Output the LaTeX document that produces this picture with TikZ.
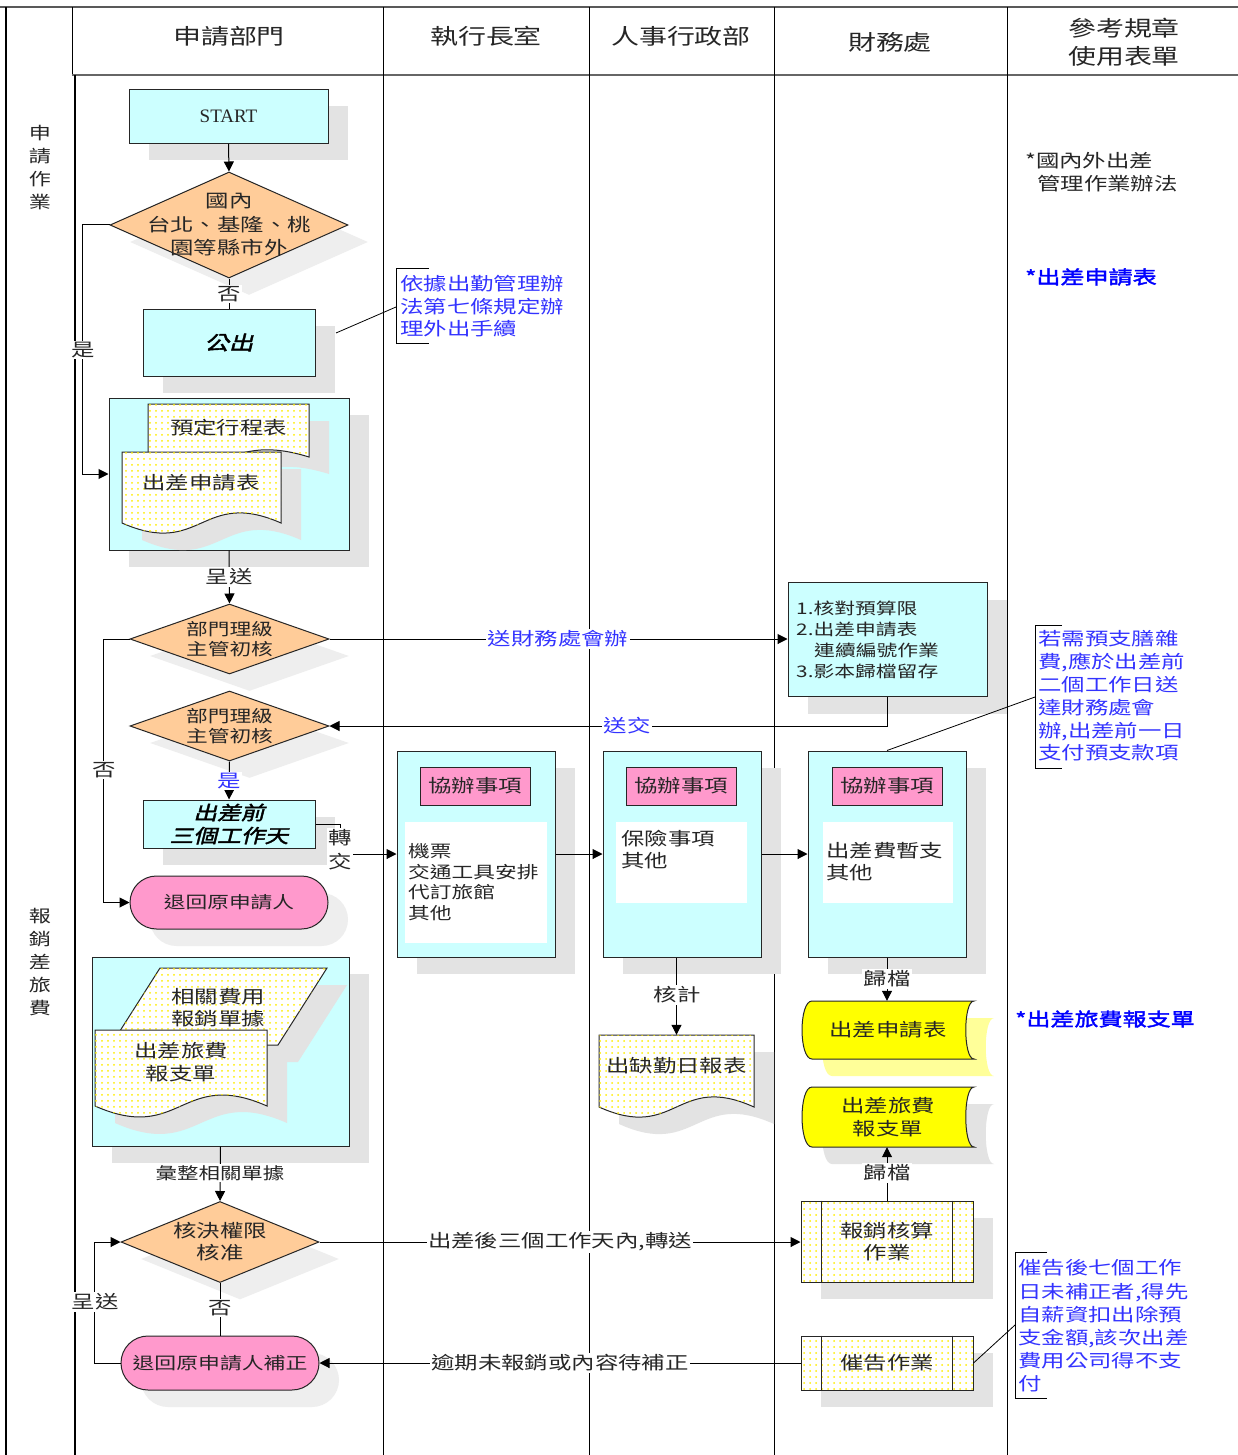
\documentclass[tikz,border=0pt]{standalone}
\usepackage{fontspec}
\setmainfont{Noto Sans CJK TC}[FakeStretch=1.3]
\newfontfamily\cjkbi{Noto Sans CJK TC}[FakeStretch=1.25,FakeSlant=0.25,FakeBold=2]
\newfontfamily\cjkb{Noto Sans CJK TC}[FakeStretch=1.3,FakeBold=2]
\newfontfamily\serifen{Liberation Serif}
\usetikzlibrary{arrows.meta,patterns.meta,shapes.geometric,shapes.misc,shadows}
\definecolor{cyanf}{HTML}{CCFFFF}
\definecolor{orangef}{HTML}{FFCC99}
\definecolor{pinkf}{HTML}{FF99CC}
\definecolor{shd}{HTML}{E3E3E3}
\definecolor{shdl}{HTML}{EEEEEE}
\definecolor{yelf}{HTML}{FFFF00}
\definecolor{yels}{HTML}{FFFF99}
\definecolor{bluet}{HTML}{3333FF}
\definecolor{blueb}{HTML}{0000FF}
\definecolor{txt}{HTML}{262626}
\definecolor{dotc}{HTML}{FFEE00}
\newcommand\docshape[6]{\path[#6] (#1,#2) -- (#3,#2) -- (#3,#4) .. controls ({(#1+#3)/2},{#4-#5}) and ({(#1+#3)/2},{#4+#5}) .. (#1,#4) -- cycle;}
\newcommand\storeshape[5]{\path[#5] ({#1+10},#2) -- (#3,#2) .. controls ({#3-11},#2) and ({#3-11},#4) .. (#3,#4) -- ({#1+10},#4) .. controls ({#1-3.3},#4) and ({#1-3.3},#2) .. ({#1+10},#2) -- cycle;}
\begin{document}
\begin{tikzpicture}[x=1pt,y=-1pt,
  sh/.style={drop shadow={shadow xshift=20pt,shadow yshift=-17pt,fill=shd,draw=none,opacity=1}},
  shl/.style={drop shadow={shadow xshift=20pt,shadow yshift=-17pt,fill=shdl,draw=none,opacity=1}},
  shy/.style={drop shadow={shadow xshift=20pt,shadow yshift=-17pt,fill=yels,draw=none,opacity=1}},
  tb/.style={font=\fontsize{18}{23}\selectfont},
  tx/.style={inner sep=0pt,text=txt},
  box/.style={draw=black!85,line width=1pt,fill=cyanf,inner sep=0pt,sh,text=txt},
  dia/.style={shape=diamond,draw=black!85,line width=1pt,fill=orangef,inner sep=0pt,shl},
  stad/.style={shape=rounded rectangle,draw=black!85,line width=1pt,fill=pinkf,inner sep=0pt,shl,text=txt},
  hdbox/.style={draw=black!85,line width=1pt,fill=pinkf,inner sep=0pt,minimum width=110pt,minimum height=38pt,font=\fontsize{18}{22}\selectfont,text=txt},
  innerw/.style={fill=white,inner sep=0pt},
  dotfill/.style={fill=white,postaction={pattern={Dots[distance=6pt,radius=1pt]},pattern color=dotc}},
  pproc/.style={draw=black!85,line width=1pt,dotfill,inner sep=0pt,sh,text=txt},
  shp/.style={draw=black!85,line width=1pt},
  con/.style={draw=black,line width=1pt},
  arr/.style={draw=black,line width=1pt,-{Triangle[length=10pt,width=10pt]}},
  lbl/.style={fill=white,inner sep=1.5pt,font=\fontsize{18}{22}\selectfont,text=txt},
  blbl/.style={lbl,text=bluet},
  ann/.style={inner sep=0pt,anchor=west,align=left,text=bluet,font=\fontsize{18}{22.8}\selectfont},
  hdr/.style={inner sep=0pt,text=txt,align=center,font=\fontsize{21.5}{28}\selectfont}
]
\fill[white] (0,0) rectangle (1238,1455);
\useasboundingbox (0,0) rectangle (1238,1455);

% lanes
\draw[line width=2pt,draw=black!65] (0,7) -- (1238,7);
\draw[line width=1.2pt] (6,7) -- (6,1455);
\draw[line width=1pt] (72,7) -- (72,75);
\draw[line width=1.6pt,draw=black!60] (72,75) -- (1238,75);
\draw[line width=1.2pt] (75,75) -- (75,1455);
\foreach \xx in {383,589,774,1007} \draw[line width=1pt] (\xx,7) -- (\xx,1455);

% headers
\node[hdr] (h1) at (229,36) {申請部門};
\node[hdr] (h2) at (486,36) {執行長室};
\node[hdr] (h3) at (681,36) {人事行政部};
\node[hdr] (h4) at (890,42) {財務處};
\node[hdr] (h5) at (1124,42) {參考規章\\使用表單};
\node[tx,align=center,font=\fontsize{17}{23}\selectfont] (lane1) at (40,168) {申\\請\\作\\業};
\node[tx,align=center,font=\fontsize{17}{23}\selectfont] (lane2) at (40,962) {報\\銷\\差\\旅\\費};

% column 1
\node[box,minimum width=199pt,minimum height=54pt,font={\serifen\fontsize{19}{22}\selectfont}] (start) at (228.5,116.5) {START};
\node[dia,minimum width=238pt,minimum height=106pt] (d1) at (229,225) {};
\node[tx,align=center,font=\fontsize{18}{23.5}\selectfont] (d1t) at (229,225) {國內\\台北、基隆、桃\\園等縣市外};
\node[box,minimum width=172pt,minimum height=67pt,font={\cjkbi\fontsize{19.5}{22}\selectfont},text=black] (gc) at (229,342.5) {公出};

\node[box,minimum width=240pt,minimum height=152pt] (pack1) at (229,474) {};
\docshape{148}{404}{309}{457}{25}{shp,dotfill,sh}
\node[tx,tb] (doc1) at (228.5,428) {預定行程表};
\docshape{122}{452}{281}{523}{35}{shp,dotfill,sh}
\node[tx,tb] (doc2) at (201,483) {出差申請表};

\node[dia,minimum width=199pt,minimum height=70pt] (d2) at (229.5,639) {};
\node[tx,align=center,font=\fontsize{16.7}{20}\selectfont] (d2t) at (229.5,639) {部門理級\\主管初核};
\node[dia,minimum width=199pt,minimum height=70pt] (d3) at (229.5,726) {};
\node[tx,align=center,font=\fontsize{16.7}{20}\selectfont] (d3t) at (229.5,726) {部門理級\\主管初核};

\node[box,minimum width=172pt,minimum height=48pt,align=center,font={\cjkbi\fontsize{19}{23}\selectfont},text=black] (cq) at (229,824) {出差前\\三個工作天};
\node[stad,minimum width=198pt,minimum height=53pt,font=\fontsize{16.7}{20}\selectfont] (back1) at (229,902.5) {退回原申請人};

\node[box,minimum width=257pt,minimum height=189pt] (pack2) at (220.5,1051.5) {};
\path[shp,dotfill,sh] (160,968) -- (327,968) -- (278,1045) -- (111,1045) -- cycle;
\node[tx,align=center,font=\fontsize{18}{22}\selectfont] (par) at (218,1008) {相關費用\\報銷單據};
\docshape{95}{1030}{267}{1106}{38}{shp,dotfill,sh}
\node[tx,align=center,font=\fontsize{18}{23}\selectfont] (doc4) at (181,1062.5) {出差旅費\\報支單};

\node[dia,minimum width=198pt,minimum height=81pt] (d4) at (220,1242) {};
\node[tx,align=center,font=\fontsize{18}{22}\selectfont] (d4t) at (220,1242) {核決權限\\核准};
\node[stad,minimum width=198pt,minimum height=54pt] (back2) at (220,1363) {};
\node[tx,font=\fontsize{16.8}{22}\selectfont] (back2t) at (220,1363) {退回原申請人補正};

% column 2
\node[box,minimum width=158pt,minimum height=206pt] (cb1) at (476,854) {};
\node[hdbox] (cb1h) at (475,786) {協辦事項};
\node[innerw,minimum width=142pt,minimum height=121pt] (cb1i) at (476,882.5) {};
\node[tx,anchor=west,align=left,font=\fontsize{16.7}{20.7}\selectfont] (cb1t) at (408,882) {機票\\交通工具安排\\代訂旅館\\其他};

% column 3
\node[box,minimum width=158pt,minimum height=206pt] (cb2) at (682,854) {};
\node[hdbox] (cb2h) at (681,786) {協辦事項};
\node[innerw,minimum width=131pt,minimum height=81pt] (cb2i) at (681.5,862.5) {};
\node[tx,anchor=west,align=left,font=\fontsize{18}{22}\selectfont] (cb2t) at (621,850) {保險事項\\其他};
\docshape{599}{1035}{754}{1107}{35}{shp,dotfill,sh}
\node[tx,tb,minimum width=155pt,minimum height=62pt] (doc3) at (676.5,1066) {出缺勤日報表};

% column 4
\node[box,minimum width=199pt,minimum height=114pt] (fin) at (887.5,639.5) {};
\node[tx,anchor=west,align=left,font=\fontsize{16}{21}\selectfont] (fint) at (796,639.5) {1.核對預算限\\2.出差申請表\\\hspace*{18pt}連續編號作業\\3.影本歸檔留存};
\node[box,minimum width=158pt,minimum height=206pt] (cb3) at (887,854) {};
\node[hdbox] (cb3h) at (887,786) {協辦事項};
\node[innerw,minimum width=130pt,minimum height=81pt] (cb3i) at (888,862.5) {};
\node[tx,anchor=west,align=left,font=\fontsize{18}{22}\selectfont] (cb3t) at (826,862) {出差費暫支\\其他};

\storeshape{802}{1001}{974}{1059}{shp,fill=yelf,shy}
\node[tx,tb,minimum width=172pt,minimum height=58pt] (st1) at (888,1030) {出差申請表};
\storeshape{802}{1087}{974}{1147}{shp,fill=yelf,sh}
\node[tx,align=center,font=\fontsize{18}{23}\selectfont,minimum width=172pt,minimum height=60pt] (st2) at (888,1117) {出差旅費\\報支單};

\node[pproc,minimum width=172pt,minimum height=81pt,align=center,font=\fontsize{18}{22}\selectfont] (pp1) at (887,1241.5) {報銷核算\\作業};
\draw[shp] ([xshift=21pt]pp1.north west) -- ([xshift=21pt]pp1.south west);
\draw[shp] ([xshift=-21pt]pp1.north east) -- ([xshift=-21pt]pp1.south east);
\node[pproc,minimum width=172pt,minimum height=54pt,font=\fontsize{18}{22}\selectfont] (pp2) at (887,1363) {催告作業};
\draw[shp] ([xshift=21pt]pp2.north west) -- ([xshift=21pt]pp2.south west);
\draw[shp] ([xshift=-21pt]pp2.north east) -- ([xshift=-21pt]pp2.south east);

% column 5
\node[tx,anchor=west,align=left,font=\fontsize{18}{23}\selectfont] (ref1) at (1025,172.5) {*國內外出差\\\hspace*{12pt}管理作業辦法};
\node[tx,anchor=west,text=blueb,font={\cjkb\fontsize{18.5}{22}\selectfont}] (ref2) at (1025,277) {*出差申請表};
\node[tx,anchor=west,text=blueb,font={\cjkb\fontsize{18.5}{22}\selectfont}] (ref3) at (1015,1019) {*出差旅費報支單};

% annotations
\node[ann,font=\fontsize{18}{22.5}\selectfont] (ann1) at (400,306.5) {依據出勤管理辦\\法第七條規定辦\\理外出手續};
\draw[con,line width=0.8pt] (429,268) -- (396,268) -- (396,343) -- (429,343);
\node[ann] (ann2) at (1038,696) {若需預支膳雜\\費,應於出差前\\二個工作日送\\達財務處會\\辦,出差前一日\\支付預支款項};
\draw[con,line width=0.8pt] (1062,625) -- (1035,625) -- (1035,768) -- (1062,768);
\node[ann,font=\fontsize{18}{23.2}\selectfont] (ann3) at (1018,1326) {催告後七個工作\\日未補正者,得先\\自薪資扣出除預\\支金額,該次出差\\費用公司得不支\\付};
\draw[con,line width=0.8pt] (1047,1252) -- (1015,1252) -- (1015,1398) -- (1047,1398);
\coordinate (a1s) at (336,333);
\coordinate (a1e) at (396,307);
\coordinate (a2e) at (1035,697);
\coordinate (a3e) at (1015,1325);
\draw[con,line width=0.8pt] (a1s) -- (a1e);
\draw[con,line width=0.8pt] (cb3.north) -- (a2e);
\draw[con,line width=0.8pt] (pp2.east) -- (a3e);

% connectors
\draw[arr] (start.south) -- (d1.north);
\draw[con] (d1.south) -- (gc.north);
\node[lbl] (lb1) at (229,294) {否};
\draw[arr] (d1.west) -- ++(-27,0) |- (pack1.west);
\node[lbl] (lb2) at (83,350) {是};
\draw[arr] (pack1.south) -- (d2.north);
\node[lbl] (lb3) at (229,577) {呈送};
\draw[arr] (d2.east) -- (d2.east -| fin.west);
\node[blbl] (lb4) at (558,639) {送財務處會辦};
\draw[arr] (fin.south) |- (d3.east);
\node[blbl] (lb5) at (627,726) {送交};
\draw[arr] (d2.west) -- ++(-26,0) |- (back1.west);
\node[lbl] (lb6) at (104,770) {否};
\draw[arr] (d3.south) -- (cq.north);
\node[blbl] (lb7) at (229,781) {是};
\draw[arr] (cq.east) -- ++(25,0) |- (cb1.west);
\node[lbl,align=center,font=\fontsize{18}{24}\selectfont] (lb8) at (340,850) {轉\\交};
\draw[arr] (cb1.east) -- (cb2.west);
\draw[arr] (cb2.east) -- (cb3.west);
\draw[arr] (doc3.north |- cb2.south) -- (doc3.north);
\node[lbl] (lb9) at (677,995) {核計};
\draw[arr] (cb3.south) -- (cb3.south |- st1.north);
\node[lbl] (lb10) at (887,979) {歸檔};
\draw[arr] (pp1.north) -- (pp1.north |- st2.south);
\node[lbl] (lb11) at (887,1173) {歸檔};
\draw[arr] (pack2.south) -- (d4.north);
\node[lbl,font=\fontsize{16.5}{20}\selectfont] (lb12) at (220,1173) {彙整相關單據};
\draw[con] (d4.south) -- (back2.north);
\node[lbl] (lb13) at (220,1308) {否};
\draw[arr] (back2.west) -- ++(-26,0) |- (d4.west);
\node[lbl] (lb14) at (95,1302) {呈送};
\draw[arr] (d4.east) -- (d4.east -| pp1.west);
\node[lbl] (lb15) at (560,1242) {出差後三個工作天內,轉送};
\draw[arr] (pp2.west) -- (back2.east);
\node[lbl] (lb16) at (560,1363) {逾期未報銷或內容待補正};
\end{tikzpicture}
\end{document}
